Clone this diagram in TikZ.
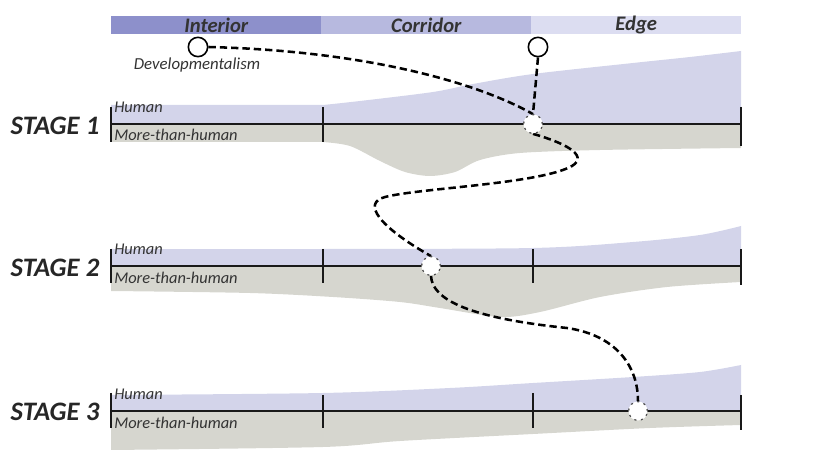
\documentclass[tikz,border=0pt]{standalone}
\usepackage{fontspec}
\setmainfont{Carlito}
\definecolor{humanc}{HTML}{D3D4EA}
\definecolor{morec}{HTML}{D6D6CF}
\definecolor{intc}{HTML}{8D90CB}
\definecolor{corc}{HTML}{B7B9DF}
\definecolor{edgc}{HTML}{DCDDF1}
\definecolor{txtc}{HTML}{333333}
\begin{document}
\begin{tikzpicture}[x=0.75pt,y=-0.75pt,
  humanfill/.style={fill=humanc},
  morefill/.style={fill=morec},
  axisline/.style={line width=1.5pt,black!90},
  tickline/.style={line width=1.5pt,black!90},
  flowpath/.style={line width=1.9pt,dash pattern=on 5.5pt off 3pt},
  opencirc/.style={circle,draw,line width=1.2pt,fill=white,minimum size=14.5pt,inner sep=0pt},
  axcirc/.style={circle,draw=black!70,line width=0.8pt,dash pattern=on 1.5pt off 3.5pt,fill=white,minimum size=14pt,inner sep=0pt},
  barlabel/.style={font=\fontsize{15.5}{17}\selectfont\bfseries\itshape,text=txtc},
  stagelabel/.style={font=\fontsize{20}{22}\selectfont\bfseries\itshape,text=black!85,anchor=east},
  smalllabel/.style={font=\fontsize{12.3}{14}\selectfont\itshape,text=txtc,inner sep=0pt},
  seg/.style={inner sep=0pt,minimum height=13.5pt,anchor=north west}
]
\path[use as bounding box] (0,0) rectangle (815,470);

% top bar
\node[seg,fill=intc,minimum width=157.5pt] (interior) at (111,16) {};
\node[seg,fill=corc,minimum width=157.5pt] (corridor) at (321,16) {};
\node[seg,fill=edgc,minimum width=157.5pt] (edge) at (531,16) {};
\node[barlabel] (tint) at (interior.center) {Interior};
\node[barlabel] (tcor) at (corridor.center) {Corridor};
\node[barlabel] (tedg) at (edge.center) {Edge};

% ---------- stage 1 ----------
\fill[humanfill] (111,124) -- (111,105) -- (323,105)
  -- plot[smooth] coordinates {(323,105) (360,101) (433,92) (473,84) (533,74) (633,63) (690,57) (741,51)}
  -- (741,124) -- cycle;
\fill[morefill] (111,124) -- (111,142) -- (323,142)
  -- plot[smooth] coordinates {(323,142) (350,146) (380,161) (405,172) (430,176) (455,172) (480,160) (520,153) (600,150) (741,148)}
  -- (741,124) -- cycle;
\draw[axisline] (111,124) -- (741,124);
\draw[tickline] (111,107) -- (111,142);
\draw[tickline] (323,107) -- (323,142);
\draw[tickline] (741,107) -- (741,146);

% ---------- stage 2 ----------
\fill[humanfill] (111,266) -- (111,249)
  -- plot[smooth] coordinates {(111,249) (323,249) (533,248) (633,242) (700,235) (741,226)}
  -- (741,266) -- cycle;
\fill[morefill] (111,266) -- (111,291)
  -- plot[smooth] coordinates {(111,291) (250,293) (333,297) (400,302) (440,308) (500,317) (540,312) (600,297) (667,287) (741,282)}
  -- (741,266) -- cycle;
\draw[axisline] (111,266) -- (741,266);
\draw[tickline] (111,249) -- (111,283);
\draw[tickline] (323,249) -- (323,283);
\draw[tickline] (533,249) -- (533,283);
\draw[tickline] (741,249) -- (741,285);

% ---------- stage 3 ----------
\fill[humanfill] (111,411) -- (111,395)
  -- plot[smooth] coordinates {(111,395) (323,393) (450,388) (533,383) (633,377) (700,372) (741,365)}
  -- (741,411) -- cycle;
\fill[morefill] (111,411) -- (111,450)
  -- plot[smooth] coordinates {(111,450) (323,447) (400,441) (533,434) (650,428) (741,425)}
  -- (741,411) -- cycle;
\draw[axisline] (111,411) -- (741,411);
\draw[tickline] (111,393) -- (111,428);
\draw[tickline] (323,395) -- (323,428);
\draw[tickline] (533,393) -- (533,428);
\draw[tickline] (741,395) -- (741,430);

% stage labels
\node[stagelabel] (st1) at (104,126) {STAGE 1};
\node[stagelabel] (st2) at (104,268) {STAGE 2};
\node[stagelabel] (st3) at (104,412) {STAGE 3};

% human / more-than-human labels
\node[smalllabel,anchor=base west] (h1) at (114,113) {Human};
\node[smalllabel,anchor=base west] (m1) at (114,141) {More-than-human};
\node[smalllabel,anchor=base west] (h2) at (114,255) {Human};
\node[smalllabel,anchor=base west] (m2) at (114,284) {More-than-human};
\node[smalllabel,anchor=base west] (h3) at (114,400) {Human};
\node[smalllabel,anchor=base west] (m3) at (114,429) {More-than-human};

% circles
\node[opencirc] (dev) at (198,47) {};
\node[opencirc] (edc) at (538,47) {};
\node[smalllabel,anchor=base,font=\fontsize{12.6}{14}\selectfont\itshape] (devlab) at (197,70) {Developmentalism};
\node[axcirc] (s1c) at (533,124) {};
\node[axcirc] (s2c) at (431,266) {};
\node[axcirc] (s3c) at (638,411) {};

% connectors
\draw[flowpath] (dev.east) .. controls (370,51) and (480,84) .. (s1c.north);
\draw[flowpath] (edc.south) -- (s1c.north);
\draw[flowpath] (s1c.south) .. controls (562,142) and (590,155) .. (572,166)
  .. controls (540,184) and (420,188) .. (385,197)
  .. controls (362,203) and (378,226) .. (s2c.north);
\draw[flowpath] (s2c.south) .. controls (432,300) and (470,318) .. (567,328)
  .. controls (615,335) and (638,365) .. (s3c.north);

% redraw axis circles on top
\node[axcirc] at (s1c) {};
\node[axcirc] at (s2c) {};
\node[axcirc] at (s3c) {};
\end{tikzpicture}
\end{document}
